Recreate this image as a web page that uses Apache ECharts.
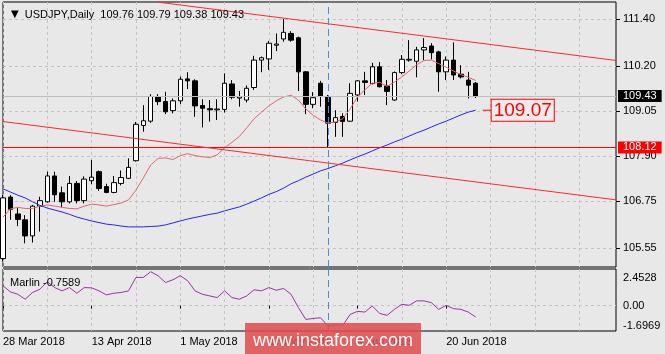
<!DOCTYPE html>
<html>
<head>
  <meta charset="utf-8">
</head>
<body style="margin: 0; background: #e8e8e8">
  <div id="container" style="width: 665px; height: 354px"></div>

  <script type="text/javascript" src="https://cdn.jsdelivr.net/npm/echarts@6/dist/echarts.min.js"></script>
  <script type="text/javascript">
    var symbolName = 'USDJPY,Daily';
    var dates = [
      '28 Mar 2018', '29 Mar 2018', '30 Mar 2018', '2 Apr 2018', '3 Apr 2018', '4 Apr 2018', '5 Apr 2018', '6 Apr 2018',
      '9 Apr 2018', '10 Apr 2018', '11 Apr 2018', '12 Apr 2018', '13 Apr 2018', '16 Apr 2018', '17 Apr 2018', '18 Apr 2018',
      '19 Apr 2018', '20 Apr 2018', '23 Apr 2018', '24 Apr 2018', '25 Apr 2018', '26 Apr 2018', '27 Apr 2018', '30 Apr 2018',
      '1 May 2018', '2 May 2018', '3 May 2018', '4 May 2018', '7 May 2018', '8 May 2018', '9 May 2018', '10 May 2018',
      '11 May 2018', '14 May 2018', '15 May 2018', '16 May 2018', '17 May 2018', '18 May 2018', '21 May 2018', '22 May 2018',
      '23 May 2018', '24 May 2018', '25 May 2018', '28 May 2018', '29 May 2018', '30 May 2018', '31 May 2018', '1 Jun 2018',
      '4 Jun 2018', '5 Jun 2018', '6 Jun 2018', '7 Jun 2018', '8 Jun 2018', '11 Jun 2018', '12 Jun 2018', '13 Jun 2018',
      '14 Jun 2018', '15 Jun 2018', '18 Jun 2018', '19 Jun 2018', '20 Jun 2018', '21 Jun 2018', '22 Jun 2018', '25 Jun 2018',
      '26 Jun 2018'
    ];
    var emptySlots = 19; // chart shift on the right

    // open, high, low, close
    var ohlc = [
      [105.28, 106.90, 105.22, 106.83], [106.85, 106.90, 106.27, 106.54], [106.42, 106.57, 106.11, 106.28],
      [106.27, 106.39, 105.67, 105.86], [105.86, 106.65, 105.69, 106.62], [106.62, 106.86, 105.97, 106.76],
      [106.73, 107.50, 106.71, 107.39], [107.39, 107.50, 106.73, 106.91], [106.96, 107.12, 106.59, 106.73],
      [106.73, 107.39, 106.69, 107.20], [107.20, 107.26, 106.69, 106.76], [106.76, 107.38, 106.69, 107.31],
      [107.27, 107.80, 107.18, 107.36], [107.50, 107.53, 107.01, 107.07], [107.12, 107.19, 106.95, 106.97],
      [106.97, 107.39, 106.95, 107.22], [107.20, 107.53, 107.15, 107.35], [107.33, 107.84, 107.31, 107.61],
      [107.78, 108.77, 107.76, 108.71], [108.68, 109.20, 108.52, 108.80], [108.79, 109.48, 108.75, 109.42],
      [109.42, 109.48, 109.20, 109.29], [109.29, 109.54, 108.97, 109.03], [109.06, 109.37, 108.99, 109.31],
      [109.31, 109.93, 109.23, 109.86], [109.87, 110.04, 109.61, 109.82], [109.82, 109.86, 108.90, 109.18],
      [109.19, 109.35, 108.63, 109.12], [109.11, 109.33, 108.78, 109.08], [109.08, 109.35, 108.82, 109.10],
      [109.09, 110.01, 109.01, 109.76], [109.74, 109.84, 109.35, 109.40], [109.38, 109.56, 109.16, 109.41],
      [109.33, 109.70, 109.27, 109.63], [109.65, 110.46, 109.59, 110.35], [110.35, 110.44, 110.04, 110.41],
      [110.38, 110.84, 110.10, 110.78], [110.73, 111.03, 110.58, 110.76], [110.89, 111.40, 110.82, 111.06],
      [111.03, 111.09, 110.82, 110.86], [110.92, 110.95, 109.56, 110.05], [110.05, 110.07, 108.97, 109.22],
      [109.22, 109.53, 109.12, 109.39], [109.76, 109.82, 109.16, 109.42], [109.42, 109.46, 108.12, 108.74],
      [108.76, 109.07, 108.39, 108.88], [108.91, 108.99, 108.39, 108.78], [108.79, 109.76, 108.77, 109.50],
      [109.46, 109.84, 109.29, 109.82], [109.82, 110.05, 109.46, 109.78], [109.75, 110.28, 109.73, 110.18],
      [110.18, 110.30, 109.65, 109.67], [109.69, 109.84, 109.20, 109.55], [109.33, 110.06, 109.31, 110.03],
      [110.03, 110.48, 109.99, 110.37], [110.35, 110.86, 110.31, 110.37], [110.32, 110.69, 109.91, 110.61],
      [110.61, 110.91, 110.35, 110.67], [110.71, 110.78, 110.37, 110.54], [110.56, 110.59, 109.54, 110.05],
      [110.05, 110.44, 109.84, 110.35], [110.35, 110.80, 109.84, 109.97], [109.99, 110.22, 109.88, 109.92],
      [109.84, 110.05, 109.37, 109.71], [109.76, 109.79, 109.38, 109.43]
    ];

    var maFast = [
      106.34, 106.55, 106.59, 106.56, 106.56, 106.62, 106.65, 106.62, 106.59, 106.56,
      106.55, 106.62, 106.67, 106.65, 106.62, 106.66, 106.70, 106.78, 107.03, 107.34,
      107.67, 107.84, 107.85, 107.81, 107.91, 107.96, 107.91, 107.88, 107.86, 107.93,
      108.11, 108.25, 108.40, 108.62, 108.85, 109.02, 109.18, 109.31, 109.41, 109.45,
      109.33, 109.10, 108.94, 108.82, 108.74, 108.77, 108.85, 109.10, 109.41, 109.59,
      109.76, 109.78, 109.68, 109.79, 109.92, 110.07, 110.23, 110.34, 110.35, 110.26,
      110.17, 110.07, 109.98, 109.91, 109.83
    ];
    var maSlow = [
      107.06, 106.98, 106.90, 106.83, 106.73, 106.64, 106.57, 106.52, 106.47, 106.41,
      106.34, 106.29, 106.24, 106.20, 106.16, 106.14, 106.11, 106.09, 106.09, 106.09,
      106.10, 106.11, 106.14, 106.19, 106.24, 106.29, 106.33, 106.37, 106.41, 106.44,
      106.50, 106.55, 106.60, 106.67, 106.75, 106.83, 106.92, 106.99, 107.08, 107.19,
      107.27, 107.36, 107.44, 107.52, 107.58, 107.65, 107.72, 107.80, 107.88, 107.95,
      108.03, 108.11, 108.18, 108.26, 108.33, 108.41, 108.49, 108.56, 108.64, 108.72,
      108.79, 108.87, 108.95, 109.02, 109.07
    ];
    var marlin = [
      1.33, 0.92, 0.76, 0.43, 0.88, 1.10, 1.60, 1.21, 0.99, 1.21,
      0.83, 1.21, 1.19, 0.99, 0.72, 0.83, 0.88, 0.99, 1.89, 1.89,
      2.27, 2.00, 1.55, 1.73, 2.00, 1.67, 0.99, 0.76, 0.65, 0.54,
      0.99, 0.54, 0.43, 0.65, 1.06, 0.99, 1.21, 1.03, 1.15, 0.76,
      -0.13, -0.92, -0.86, -0.81, -1.37, -1.26, -1.33, -0.59, -0.38, -0.43,
      -0.02, -0.52, -0.65, -0.25, 0.09, 0.02, 0.32, 0.32, 0.20, -0.25,
      0.02, -0.20, -0.25, -0.43, -0.7589
    ];

    var priceTicks = [105.55, 106.75, 107.90, 109.05, 110.20, 111.40];
    var priceRange = [105.065, 111.834];
    var marlinTicks = [-1.6969, 0, 2.4528];
    var supportLevel = 108.12;
    var upperChannel = [[21, 111.83], [83, 110.34]];
    var lowerChannel = [[0, 108.78], [83, 106.78]];
    var markedBar = 44;

    var cats = dates.slice();
    for (var i = 0; i < emptySlots; i++) cats.push('+' + (i + 1));
    var nBars = dates.length;
    var last = ohlc[nBars - 1];

    var candles = ohlc.map(function (r) { return [r[0], r[3], r[2], r[1]]; });

    var font = "'Liberation Sans', Arial, sans-serif";
    var gridLine = { color: '#c4c4c4', type: [3, 3], width: 1 };

    var dom = document.getElementById('container');
    var myChart = echarts.init(dom, null, { renderer: 'canvas' });

    var option = {
      animation: false,
      backgroundColor: '#e8e8e8',
      textStyle: { fontFamily: font },
      title: [
        {
          left: 4, top: 4,
          text: '{t|▼}' + symbolName + '  ' + last.map(function (v) { return v.toFixed(2); }).join(' '),
          textStyle: {
            fontSize: 11, fontWeight: 'normal', color: '#000', fontFamily: font,
            rich: { t: { fontSize: 10, color: '#000', fontFamily: 'DejaVu Sans', padding: [0, 6, 0, 2] } }
          }
        },
        {
          left: 5, top: 272,
          text: 'Marlin ' + marlin[nBars - 1].toFixed(4),
          textStyle: { fontSize: 11, fontWeight: 'normal', color: '#000', fontFamily: font }
        }
      ],
      grid: [
        { left: 3, right: 49, top: 2, height: 265, show: true, borderColor: '#000', borderWidth: 1, backgroundColor: 'transparent' },
        { left: 3, right: 49, top: 269, height: 62, show: true, borderColor: '#000', borderWidth: 1, backgroundColor: 'transparent' }
      ],
      xAxis: [
        {
          type: 'category', gridIndex: 0, data: cats, boundaryGap: false,
          axisLine: { show: false }, axisTick: { show: false }, axisLabel: { show: false },
          splitLine: { show: true, interval: function (i) { return i % 6 === 0; }, lineStyle: gridLine }
        },
        {
          type: 'category', gridIndex: 1, data: cats, boundaryGap: false,
          axisLine: { show: false },
          axisTick: {
            show: true, length: 3, lineStyle: { color: '#000' },
            interval: function (i) { return i % 12 === 0 && i < nBars; }
          },
          axisLabel: {
            show: true, align: 'left', margin: 5, fontSize: 11, color: '#000',
            interval: function (i) { return i % 12 === 0 && i < nBars; }
          },
          splitLine: { show: true, interval: function (i) { return i % 6 === 0; }, lineStyle: gridLine }
        }
      ],
      yAxis: [
        {
          type: 'value', gridIndex: 0, position: 'right', min: priceRange[0], max: priceRange[1],
          axisLine: { show: false },
          axisTick: { show: true, customValues: priceTicks, length: 4, lineStyle: { color: '#000' } },
          axisLabel: {
            customValues: priceTicks, margin: 7, fontSize: 11, color: '#000',
            formatter: function (v) { return v.toFixed(2); }
          },
          splitLine: { show: true, lineStyle: gridLine }
        },
        {
          type: 'value', gridIndex: 1, position: 'right', min: marlinTicks[0], max: marlinTicks[2],
          axisLine: { show: false },
          axisTick: { show: false, customValues: [0] },
          axisLabel: {
            customValues: marlinTicks, margin: 7, fontSize: 11, color: '#000',
            formatter: function (v) {
              if (v === 0) return '0.00';
              if (v > 0) return '{top|' + v.toFixed(4) + '}';
              return '{bot|' + v.toFixed(4) + '}';
            },
            rich: {
              top: { fontSize: 11, color: '#000', padding: [18, 0, 0, 0] },
              bot: { fontSize: 11, color: '#000', padding: [0, 0, 10, 0] }
            }
          },
          splitLine: { show: true, lineStyle: gridLine }
        }
      ],
      series: [
        {
          name: 'price', type: 'candlestick', xAxisIndex: 0, yAxisIndex: 0,
          data: candles, barWidth: 5,
          itemStyle: { color: '#fff', color0: '#000', borderColor: '#000', borderColor0: '#000', borderWidth: 1 },
          markLine: {
            silent: true, symbol: ['none', 'none'], animation: false,
            label: { show: false },
            data: [
              {
                yAxis: last[3], lineStyle: { color: '#bdbdbd', type: 'solid', width: 1 },
                label: {
                  show: true, position: 'end', distance: 2, formatter: last[3].toFixed(2),
                  backgroundColor: '#000', color: '#fff', fontSize: 11, padding: [1, 5, 0, 5]
                }
              },
              {
                yAxis: supportLevel, lineStyle: { color: '#ff0000', type: 'solid', width: 1 },
                label: {
                  show: true, position: 'end', distance: 2, formatter: supportLevel.toFixed(2),
                  backgroundColor: '#ff0000', color: '#fff', fontSize: 11, padding: [1, 5, 0, 5]
                }
              },
              [{ coord: upperChannel[0], lineStyle: { color: '#ff2a2a', type: 'solid', width: 1 } }, { coord: upperChannel[1] }],
              [{ coord: lowerChannel[0], lineStyle: { color: '#ff2a2a', type: 'solid', width: 1 } }, { coord: lowerChannel[1] }],
              { xAxis: markedBar, lineStyle: { color: '#3f8fe6', type: [7, 4], width: 1 } }
            ]
          }
        },
        {
          name: 'fast', type: 'line', xAxisIndex: 0, yAxisIndex: 0, data: maFast,
          showSymbol: false, lineStyle: { color: '#e4646e', width: 1 }
        },
        {
          name: 'slow', type: 'line', xAxisIndex: 0, yAxisIndex: 0, data: maSlow,
          showSymbol: false, lineStyle: { color: '#2424f0', width: 1 },
          endLabel: {
            show: true, distance: 7,
            formatter: function (p) { return '{d| }{b|' + p.value.toFixed(2) + '}'; },
            rich: {
              d: { width: 9, height: 1, backgroundColor: '#ff0000', verticalAlign: 'middle' },
              b: {
                color: '#ff0000', fontSize: 19, fontFamily: font, borderColor: '#ff0000', borderWidth: 1,
                backgroundColor: '#ececec', padding: [2, 2, 0, 2], verticalAlign: 'middle'
              }
            }
          }
        },
        {
          name: 'Marlin', type: 'line', xAxisIndex: 1, yAxisIndex: 1, data: marlin,
          showSymbol: false, lineStyle: { color: '#a22ea8', width: 1 },
          markLine: {
            silent: true, symbol: ['none', 'none'], label: { show: false },
            data: [{ xAxis: markedBar, lineStyle: { color: '#3f8fe6', type: [7, 4], width: 1 } }]
          }
        }
      ],
      graphic: [
        {
          type: 'rect', left: 245, top: 323, z: 100,
          shape: { width: 176, height: 31 },
          style: { fill: 'rgba(222, 78, 78, 0.88)' }
        },
        {
          type: 'text', x: 333, y: 341, z: 101,
          style: {
            text: 'www.instaforex.com', fill: '#fff', font: '18px ' + font,
            textAlign: 'center', textVerticalAlign: 'middle'
          }
        }
      ]
    };

    myChart.setOption(option);
    window.addEventListener('resize', myChart.resize);
  </script>
</body>
</html>
